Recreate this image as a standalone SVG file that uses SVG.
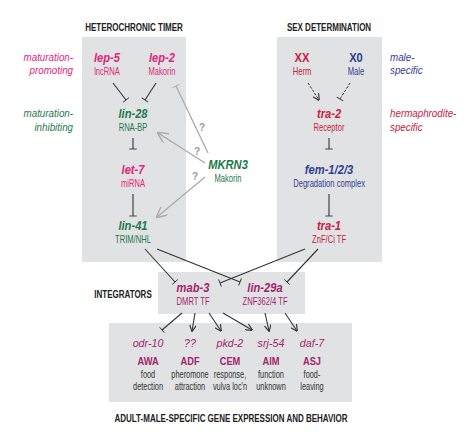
<svg xmlns="http://www.w3.org/2000/svg" width="474" height="438" viewBox="0 0 474 438">
<defs>
<style>
text{font-family:"Liberation Sans",Arial,sans-serif;text-anchor:middle;transform-box:fill-box;transform-origin:center}
.box{fill:#e1e2e3}
.title{font-size:10.4px;font-weight:bold;fill:#222;transform:scaleX(0.77)}
.gene{font-size:12px;font-weight:bold;font-style:italic;transform:scaleX(0.93)}
.sub{font-size:10px;transform:scaleX(0.76)}
.side{font-size:11px;font-style:italic;text-anchor:end;transform-origin:right center;transform:scaleX(0.89)}
.sideL{font-size:11px;font-style:italic;text-anchor:start;transform-origin:left center;transform:scaleX(0.89)}
.pink{fill:#e0267c}
.green{fill:#1e7a4c}
.red{fill:#c8203e}
.blue{fill:#2f3e96}
.plum{fill:#a3246e}
.cellg{font-size:11.5px;font-style:italic;fill:#a3246e;transform:scaleX(0.93)}
.cell{font-size:11.6px;font-weight:bold;fill:#a3246e;transform:scaleX(0.8)}
.desc{font-size:10px;fill:#333;transform:scaleX(0.74)}
.q{font-size:10px;fill:#999;font-weight:bold}
.ln{stroke:#333;stroke-width:1.1;fill:none}
.gr{stroke:#aaa;stroke-width:1.3;fill:none}
.dash{stroke:#333;stroke-width:1;fill:none;stroke-dasharray:2.5,1.5}
</style>
<marker id="ah" viewBox="0 0 10 10" refX="9" refY="5" markerWidth="7" markerHeight="7" orient="auto" markerUnits="userSpaceOnUse"><path d="M0,0 L10,5 L0,10" fill="none" stroke="#333" stroke-width="1.6"/></marker>
<marker id="tb" viewBox="0 0 4 10" refX="2" refY="5" markerWidth="3" markerHeight="10" orient="auto" markerUnits="userSpaceOnUse"><path d="M2,0 L2,10" stroke="#333" stroke-width="1.2"/></marker>
<marker id="ahg" viewBox="0 0 10 10" refX="9" refY="5" markerWidth="11" markerHeight="11" orient="auto" markerUnits="userSpaceOnUse"><path d="M0,0 L10,5 L0,10" fill="none" stroke="#aaa" stroke-width="1.3"/></marker>
<marker id="tbg" viewBox="0 0 4 10" refX="2" refY="5" markerWidth="3" markerHeight="10" orient="auto" markerUnits="userSpaceOnUse"><path d="M2,0 L2,10" stroke="#aaa" stroke-width="1.3"/></marker>
</defs>
<rect width="474" height="438" fill="#fff"/>

<g id="backgrounds">
<rect class="box" x="82" y="37" width="104" height="225"/>
<rect class="box" x="277" y="37" width="105" height="225"/>
<rect class="box" x="158" y="272" width="147" height="42"/>
<rect class="box" x="109" y="323" width="243" height="79"/>
</g>

<g id="titles">
<text class="title" x="134" y="31">HETEROCHRONIC TIMER</text>
<text class="title" x="329" y="31">SEX DETERMINATION</text>
<text class="title" x="123" y="298">INTEGRATORS</text>
<text class="title" x="231" y="422">ADULT-MALE-SPECIFIC GENE EXPRESSION AND BEHAVIOR</text>
</g>

<g id="side-labels">
<text class="side pink" x="73" y="61">maturation-</text>
<text class="side pink" x="73" y="74">promoting</text>
<text class="side green" x="73" y="117">maturation-</text>
<text class="side green" x="73" y="131">inhibiting</text>
<text class="sideL blue" x="390" y="61">male-</text>
<text class="sideL blue" x="390" y="74">specific</text>
<text class="sideL red" x="390" y="117">hermaphrodite-</text>
<text class="sideL red" x="390" y="131">specific</text>
</g>

<g id="lep-5"><text class="gene pink" x="107" y="62">lep-5</text><text class="sub pink" x="107" y="75">lncRNA</text></g>
<g id="lep-2"><text class="gene pink" x="162" y="62">lep-2</text><text class="sub pink" x="162" y="75">Makorin</text></g>
<g id="lin-28"><text class="gene green" x="133" y="118">lin-28</text><text class="sub green" x="133" y="131">RNA-BP</text></g>
<g id="let-7"><text class="gene pink" x="133" y="174">let-7</text><text class="sub pink" x="133" y="187">miRNA</text></g>
<g id="lin-41"><text class="gene green" x="133" y="230">lin-41</text><text class="sub green" x="133" y="243">TRIM/NHL</text></g>
<g id="MKRN3"><text class="gene green" x="228" y="169">MKRN3</text><text class="sub green" x="228" y="182">Makorin</text></g>

<g id="XX"><text class="gene red" x="302" y="62" style="font-style:normal">XX</text><text class="sub red" x="302" y="75">Herm</text></g>
<g id="X0"><text class="gene blue" x="356" y="62" style="font-style:normal">X0</text><text class="sub blue" x="356" y="75">Male</text></g>
<g id="tra-2"><text class="gene red" x="329" y="118">tra-2</text><text class="sub red" x="329" y="131">Receptor</text></g>
<g id="fem"><text class="gene blue" x="329" y="174">fem-1/2/3</text><text class="sub blue" x="329" y="187">Degradation complex</text></g>
<g id="tra-1"><text class="gene red" x="329" y="230">tra-1</text><text class="sub red" x="329" y="243">ZnF/Ci TF</text></g>

<g id="mab-3"><text class="gene plum" x="193" y="292">mab-3</text><text class="sub plum" x="193" y="305">DMRT TF</text></g>
<g id="lin-29a"><text class="gene plum" x="265" y="292">lin-29a</text><text class="sub plum" x="265" y="305">ZNF362/4 TF</text></g>

<g id="AWA"><text class="cellg" x="148" y="347">odr-10</text><text class="cell" x="148" y="365">AWA</text><text class="desc" x="148" y="378">food</text><text class="desc" x="148" y="390">detection</text></g>
<g id="ADF"><text class="cellg" x="190" y="347">??</text><text class="cell" x="190" y="365">ADF</text><text class="desc" x="190" y="378">pheromone</text><text class="desc" x="190" y="390">attraction</text></g>
<g id="CEM"><text class="cellg" x="230" y="347">pkd-2</text><text class="cell" x="230" y="365">CEM</text><text class="desc" x="230" y="378">response,</text><text class="desc" x="230" y="390">vulva loc'n</text></g>
<g id="AIM"><text class="cellg" x="271" y="347">srj-54</text><text class="cell" x="271" y="365">AIM</text><text class="desc" x="271" y="378">function</text><text class="desc" x="271" y="390">unknown</text></g>
<g id="ASJ"><text class="cellg" x="312" y="347">daf-7</text><text class="cell" x="312" y="365">ASJ</text><text class="desc" x="312" y="378">food-</text><text class="desc" x="312" y="390">leaving</text></g>

<g id="connectors">
<line class="ln" x1="113" y1="83" x2="126" y2="100" marker-end="url(#tb)"/>
<line class="ln" x1="156" y1="83" x2="145" y2="100" marker-end="url(#tb)"/>
<line class="ln" x1="133" y1="138" x2="133" y2="149" marker-end="url(#tb)"/>
<line class="ln" x1="133" y1="194" x2="133" y2="216" marker-end="url(#tb)"/>
<line class="dash" x1="308" y1="83" x2="319" y2="100" marker-end="url(#ah)"/>
<line class="dash" x1="350" y1="83" x2="340" y2="99" marker-end="url(#tb)"/>
<line class="ln" x1="329" y1="138" x2="329" y2="149" marker-end="url(#tb)"/>
<line class="ln" x1="329" y1="194" x2="329" y2="216" marker-end="url(#tb)"/>
<line class="gr" x1="208" y1="153" x2="176" y2="86" marker-end="url(#tbg)"/>
<line class="gr" x1="205" y1="163" x2="158" y2="133" marker-end="url(#ahg)"/>
<line class="gr" x1="205" y1="177" x2="157" y2="217" marker-end="url(#ahg)"/>
<text class="q" x="202" y="131">?</text>
<text class="q" x="197" y="155">?</text>
<text class="q" x="195" y="180">?</text>
<line class="ln" x1="145" y1="249" x2="175" y2="282" marker-end="url(#tb)"/>
<line class="ln" x1="157" y1="249" x2="240" y2="282" marker-end="url(#tb)"/>
<line class="ln" x1="305" y1="249" x2="220" y2="283" marker-end="url(#tb)"/>
<line class="ln" x1="318" y1="249" x2="287" y2="282" marker-end="url(#tb)"/>
<line class="ln" x1="182" y1="313" x2="162" y2="330" marker-end="url(#tb)"/>
<line class="ln" x1="195" y1="313" x2="192" y2="331" marker-end="url(#ah)"/>
<line class="ln" x1="209" y1="313" x2="221" y2="331" marker-end="url(#ah)"/>
<line class="ln" x1="223" y1="313" x2="252" y2="330" marker-end="url(#ah)"/>
<line class="ln" x1="265" y1="313" x2="269" y2="331" marker-end="url(#ah)"/>
<line class="ln" x1="285" y1="313" x2="297" y2="331" marker-end="url(#ah)"/>
</g>
</svg>
